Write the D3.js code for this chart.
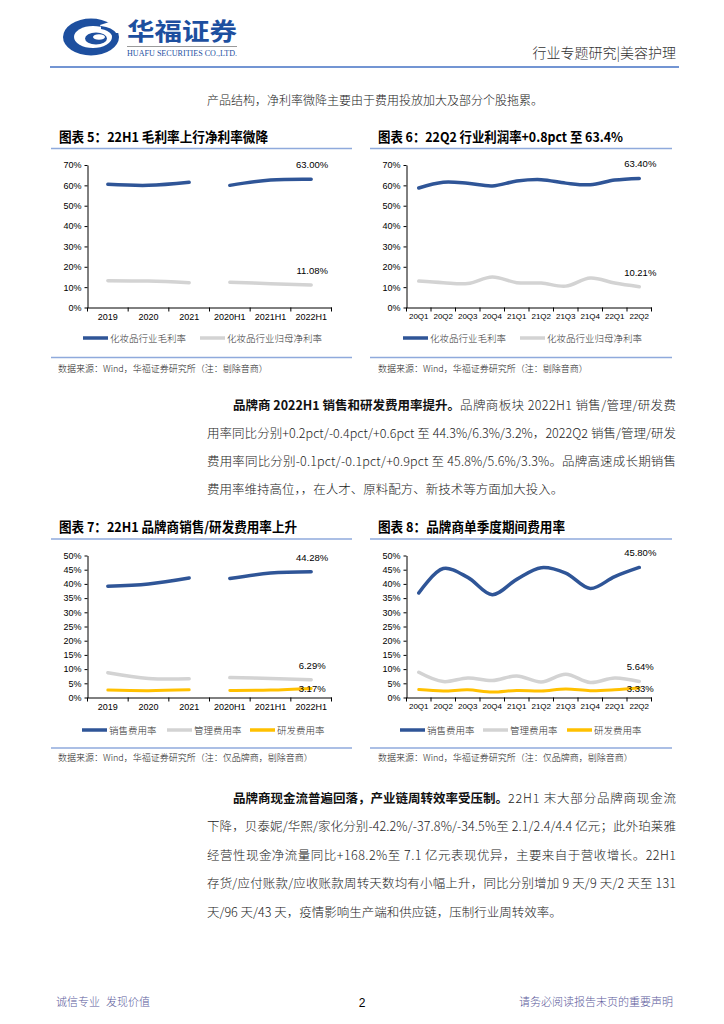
<!DOCTYPE html>
<html><head><meta charset="utf-8">
<script src="https://cdn.jsdelivr.net/npm/d3@7"></script>
<style>
body{margin:0;background:#fff;}
svg{display:block;}
.cjk{font-family:"Noto Sans CJK SC","Noto Sans",sans-serif;}
.num{font-family:"Liberation Sans",Arial,sans-serif;}
</style></head><body>
<svg id="page" width="724" height="1024"></svg>
<script>
// ---------- DATA ----------
const annualCats = ['2019','2020','2021','2020H1','2021H1','2022H1'];
const quarterCats = ['20Q1','20Q2','20Q3','20Q4','21Q1','21Q2','21Q3','21Q4','22Q1','22Q2'];

// 图表5 (annual + half-year)
const fig5Gross = [60.5, 60.0, 61.5, 60.0, 62.6, 63.00];
const fig5Net   = [13.2, 13.0, 12.2, 12.4, 11.7, 11.08];
// 图表6 (quarterly)
const fig6Gross = [58.7, 61.5, 61.0, 59.7, 62.1, 62.8, 61.1, 60.3, 62.6, 63.40];
const fig6Net   = [13.0, 12.2, 11.8, 15.0, 12.2, 12.0, 10.5, 14.5, 12.0, 10.21];
// 图表7 (annual + half-year)
const fig7Sales = [39.2, 40.0, 42.1, 41.9, 43.8, 44.28];
const fig7Admin = [8.7, 6.7, 6.6, 7.0, 6.7, 6.29];
const fig7RD    = [2.6, 2.4, 2.7, 2.5, 2.6, 3.17];
// 图表8 (quarterly)
const fig8Sales = [36.8, 45.4, 42.3, 36.2, 41.6, 45.7, 43.8, 38.4, 42.6, 45.80];
const fig8Admin = [8.9, 5.6, 6.9, 6.0, 7.6, 5.5, 8.2, 5.3, 6.9, 5.64];
const fig8RD    = [2.8, 2.3, 2.7, 1.9, 2.5, 2.3, 3.0, 2.4, 2.7, 3.33];

const yTicks70 = [0,10,20,30,40,50,60,70];
const yTicks50 = [0,5,10,15,20,25,30,35,40,45,50];

const grossName = '化妆品行业毛利率';
const netName = '化妆品行业归母净利率';
const salesName = '销售费用率';
const adminName = '管理费用率';
const rdName = '研发费用率';

// ---------- PAGE ----------
const page = d3.select('#page');
const BLUE = '#2F5597', GRAY = '#D3D3D3', YELLOW = '#FFC000';

// header logo
const logo = page.append('g');
logo.append('ellipse').attr('cx',91).attr('cy',37).attr('rx',28).attr('ry',18.5).attr('fill','#1D4F9F');
logo.append('ellipse').attr('cx',93).attr('cy',37).attr('rx',19).attr('ry',11).attr('fill','#fff');
logo.append('ellipse').attr('cx',96).attr('cy',38.5).attr('rx',11).attr('ry',6).attr('fill','#1D4F9F');
logo.append('ellipse').attr('cx',99).attr('cy',37).attr('rx',6).attr('ry',2.8).attr('fill','#fff');
logo.append('path').attr('d','M100,25 L122,18 L122,33 L104,33 Z').attr('fill','#fff');
logo.append('path').attr('d','M101,26 Q112,27 117,34 L112,35 Q108,30 101,29 Z').attr('fill','#1D4F9F');

page.append('text').attr('class','cjk').attr('x',127).attr('y',39.5)
  .attr('textLength',110).attr('lengthAdjust','spacingAndGlyphs')
  .style('font-size','24px').style('font-weight','bold').attr('fill','#1D4F9F').text('华福证券');
page.append('line').attr('x1',127).attr('x2',237).attr('y1',46.5).attr('y2',46.5).attr('stroke','#9a9a9a').attr('stroke-width',1);
page.append('text').attr('x',127).attr('y',56).attr('textLength',110).attr('lengthAdjust','spacingAndGlyphs')
  .style('font-family','"Liberation Serif",serif').style('font-size','8px').attr('fill','#1D4F9F').text('HUAFU SECURITIES CO.,LTD.');

page.append('text').attr('class','cjk').attr('x',676).attr('y',58).attr('text-anchor','end')
  .style('font-size','14px').style('font-weight','300').attr('fill','#333').text('行业专题研究|美容护理');
page.append('line').attr('x1',50).attr('x2',679).attr('y1',67).attr('y2',67).attr('stroke','#4472C4').attr('stroke-width',1.6);

page.append('text').attr('class','cjk').attr('x',207).attr('y',104.5)
  .style('font-size','12px').style('font-weight','300').attr('fill','#222').text('产品结构，净利率微降主要由于费用投放加大及部分个股拖累。');

// justified paragraph line helper
function paraLine(y, x0, x1, boldPart, normalPart, justify) {
  let x = x0;
  if (boldPart) {
    const b = page.append('text').attr('class','cjk').attr('x',x).attr('y',y)
      .style('font-size','12.5px').style('font-weight','bold').attr('fill','#111').text(boldPart);
    x += b.node().getComputedTextLength();
  }
  const t = page.append('text').attr('class','cjk').attr('x',x).attr('y',y)
    .style('font-size','12.5px').style('font-weight','300').attr('fill','#222').text(normalPart);
  if (justify) t.attr('textLength', x1 - x).attr('lengthAdjust','spacing');
}

const para1 = [
  ['品牌商 2022H1 销售和研发费用率提升。','品牌商板块 2022H1 销售/管理/研发费'],
  ['','用率同比分别+0.2pct/-0.4pct/+0.6pct 至 44.3%/6.3%/3.2%，2022Q2 销售/管理/研发'],
  ['','费用率同比分别-0.1pct/-0.1pct/+0.9pct 至 45.8%/5.6%/3.3%。品牌高速成长期销售'],
  ['','费用率维持高位，，在人才、原料配方、新技术等方面加大投入。']
];
para1.forEach((l,i) => paraLine(409.5 + i*28.3, i===0 ? 233 : 207, 676, l[0], l[1], i < para1.length-1));

const para2 = [
  ['品牌商现金流普遍回落，产业链周转效率受压制。','22H1 末大部分品牌商现金流'],
  ['','下降，贝泰妮/华熙/家化分别-42.2%/-37.8%/-34.5%至 2.1/2.4/4.4 亿元；此外珀莱雅'],
  ['','经营性现金净流量同比+168.2%至 7.1 亿元表现优异，主要来自于营收增长。22H1'],
  ['','存货/应付账款/应收账款周转天数均有小幅上升，同比分别增加 9 天/9 天/2 天至 131'],
  ['','天/96 天/43 天，疫情影响生产端和供应链，压制行业周转效率。']
];
para2.forEach((l,i) => paraLine(802.5 + i*28.5, i===0 ? 233 : 207, 676, l[0], l[1], i < para2.length-1));

// footer
page.append('text').attr('class','cjk').attr('x',56).attr('y',1006).style('font-size','11px').style('font-weight','300').attr('fill','#5B5B9B').text('诚信专业');
page.append('text').attr('class','cjk').attr('x',106).attr('y',1006).style('font-size','11px').style('font-weight','300').attr('fill','#5B5B9B').text('发现价值');
page.append('text').attr('class','num').attr('x',362).attr('y',1007).attr('text-anchor','middle').style('font-size','12px').attr('fill','#000').text('2');
page.append('text').attr('class','cjk').attr('x',673).attr('y',1006).attr('text-anchor','end').style('font-size','11px').style('font-weight','300').attr('fill','#5B5B9B').text('请务必阅读报告末页的重要声明');

// ---------- CHART ----------
const fmtPct = v => d3.format('.2f')(v) + '%';
const lineGen = d3.line().x(d => d[0]).y(d => d[1]).curve(d3.curveCatmullRom.alpha(0.5));

function drawChart(o) {
  const g = page.append('g');
  g.append('text').attr('class','cjk').attr('x',o.titleX).attr('y',o.titleY)
    .attr('textLength',o.titleW).attr('lengthAdjust','spacingAndGlyphs')
    .style('font-size','13.5px').style('font-weight','bold').attr('fill','#000').text(o.title);
  [o.ruleTop, o.ruleBottom].forEach(ry => g.append('line').attr('x1',o.ruleX0).attr('x2',o.ruleX1)
    .attr('y1',ry).attr('y2',ry).attr('stroke','#8FAADC').attr('stroke-width',1.5));

  const x = d3.scaleBand().domain(o.cats).range([o.ax0, o.ax1]).padding(0);
  const y = d3.scaleLinear().domain([0, d3.max(o.ticks)]).range([o.ay0, o.ay1]);
  const bw = x.bandwidth();

  const ya = g.append('g').attr('transform',`translate(${o.ax0},0)`)
    .call(d3.axisLeft(y).tickValues(o.ticks).tickFormat(d => d + '%').tickSize(3).tickSizeOuter(0).tickPadding(3));
  ya.selectAll('text').attr('class','num').style('font-size','9px').attr('fill','#000');
  ya.selectAll('line,path').attr('stroke','#000');

  const xa = g.append('g').attr('transform',`translate(0,${o.ay0})`)
    .call(d3.axisBottom(x).tickSize(0).tickSizeOuter(0).tickPadding(6));
  xa.selectAll('text').attr('class','num').style('font-size', o.xFont).attr('fill','#000');
  xa.selectAll('path').attr('stroke','#000');
  const bounds = o.cats.map(c => x(c)).concat([o.ax1]);
  g.selectAll(null).data(bounds).join('line')
    .attr('x1',d => d).attr('x2',d => d).attr('y1',o.ay0).attr('y2',o.ay0 + 4).attr('stroke','#000');

  o.series.forEach(s => {
    o.segments.forEach(([a,b]) => {
      const pts = s.values.slice(a,b).map((v,i) => [x(o.cats[a+i]) + bw/2, y(v)]);
      g.append('path').attr('d', lineGen(pts)).attr('fill','none')
        .attr('stroke', s.color).attr('stroke-width', s.width).attr('stroke-linecap','round');
    });
    const li = s.values.length - 1;
    g.append('text').attr('class','num').attr('x', x(o.cats[li]) + bw/2 + 1).attr('y', y(s.values[li]) + s.labelDy)
      .attr('text-anchor','middle').style('font-size','9.5px').attr('fill','#000').text(fmtPct(s.values[li]));
  });

  o.series.forEach((s,i) => {
    const lx = o.legendX[i];
    g.append('line').attr('x1',lx).attr('x2',lx + 25).attr('y1',o.legendY).attr('y2',o.legendY)
      .attr('stroke',s.color).attr('stroke-width',3.5);
    g.append('text').attr('class','cjk').attr('x',lx + 27).attr('y',o.legendY + 3.5)
      .style('font-size','9.5px').style('font-weight','300').attr('fill','#333').text(s.name);
  });

  g.append('text').attr('class','cjk').attr('x',o.srcX).attr('y',o.srcY)
    .style('font-size','9px').style('font-weight','300').attr('fill','#222').text(o.source);
}

const src1 = '数据来源：Wind，华福证券研究所（注：剔除音商）';
const src2 = '数据来源：Wind，华福证券研究所（注：仅品牌商，剔除音商）';

drawChart({
  title:'图表 5：22H1 毛利率上行净利率微降', titleX:59, titleY:142, titleW:209,
  ruleX0:51, ruleX1:352, ruleTop:148.5, ruleBottom:357.5,
  cats:annualCats, ticks:yTicks70, ax0:87.5, ax1:331.5, ay0:307.5, ay1:165, xFont:'9px',
  segments:[[0,3],[3,6]],
  series:[
    {values:fig5Gross, color:BLUE, width:3.5, name:grossName, labelDy:-11},
    {values:fig5Net, color:GRAY, width:3.5, name:netName, labelDy:-11}
  ],
  legendX:[83,200], legendY:338, srcX:58, srcY:372, source:src1
});

drawChart({
  title:'图表 6：22Q2 行业利润率+0.8pct 至 63.4%', titleX:378, titleY:142, titleW:245,
  ruleX0:370, ruleX1:672, ruleTop:148.5, ruleBottom:357.5,
  cats:quarterCats, ticks:yTicks70, ax0:406.5, ax1:651.5, ay0:307.5, ay1:165, xFont:'8px',
  segments:[[0,10]],
  series:[
    {values:fig6Gross, color:BLUE, width:3.5, name:grossName, labelDy:-11},
    {values:fig6Net, color:GRAY, width:3.5, name:netName, labelDy:-11}
  ],
  legendX:[403,520], legendY:338, srcX:378, srcY:372, source:src1
});

drawChart({
  title:'图表 7：22H1 品牌商销售/研发费用率上升', titleX:59, titleY:532, titleW:238,
  ruleX0:51, ruleX1:352, ruleTop:539, ruleBottom:748,
  cats:annualCats, ticks:yTicks50, ax0:87.5, ax1:331.5, ay0:697.5, ay1:555.5, xFont:'9px',
  segments:[[0,3],[3,6]],
  series:[
    {values:fig7Sales, color:BLUE, width:3.5, name:salesName, labelDy:-11},
    {values:fig7Admin, color:GRAY, width:3.5, name:adminName, labelDy:-11},
    {values:fig7RD, color:YELLOW, width:3, name:rdName, labelDy:3.5}
  ],
  legendX:[82,167,250], legendY:730, srcX:58, srcY:761, source:src2
});

drawChart({
  title:'图表 8：品牌商单季度期间费用率', titleX:378, titleY:532, titleW:187,
  ruleX0:370, ruleX1:672, ruleTop:539, ruleBottom:748,
  cats:quarterCats, ticks:yTicks50, ax0:406.5, ax1:651.5, ay0:697.5, ay1:555.5, xFont:'8px',
  segments:[[0,10]],
  series:[
    {values:fig8Sales, color:BLUE, width:3.5, name:salesName, labelDy:-11},
    {values:fig8Admin, color:GRAY, width:3.5, name:adminName, labelDy:-11},
    {values:fig8RD, color:YELLOW, width:3, name:rdName, labelDy:3.5}
  ],
  legendX:[400,483,567], legendY:730, srcX:378, srcY:761, source:src2
});
</script>
</body></html>
